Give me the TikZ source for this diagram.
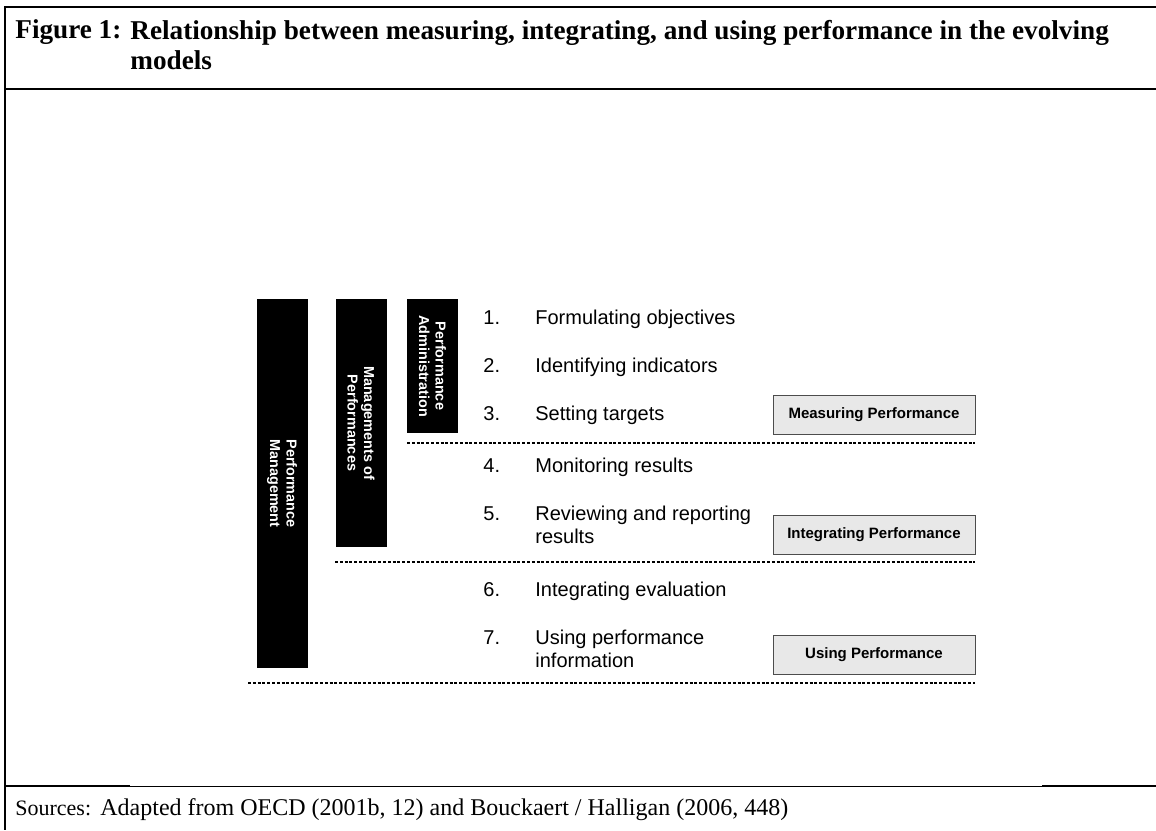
\documentclass[tikz,border=0pt]{standalone}
\usepackage{fontspec}
\setmainfont{Liberation Serif}
\setsansfont{Liberation Sans}
\usetikzlibrary{positioning}

\begin{document}
\begin{tikzpicture}[x=0.5pt, y=-0.5pt,
    bar/.style={fill=black, text=white, rotate=-90, inner sep=0pt, align=center,
        minimum height=25.5pt, font=\sffamily\bfseries\fontsize{7.2}{8.2}\selectfont},
    phase/.style={draw=black!70, fill=black!9, minimum width=101pt, minimum height=19.5pt,
        inner sep=0pt, font=\sffamily\bfseries\fontsize{7.5}{9}\selectfont},
    num/.style={anchor=base west, inner sep=0pt, font=\sffamily\fontsize{10}{11.5}\selectfont},
    item/.style={anchor=base west, inner sep=0pt, align=left, font=\sffamily\fontsize{10}{11.5}\selectfont},
    sep/.style={line width=1pt, dash pattern=on 1.5pt off 0.9pt},
    frame/.style={line width=1pt}]
    \useasboundingbox (0, 0) rectangle (1156, 830);
    % frame
    \draw[frame] (1156, 7) -- (5, 7) -- (5, 830);
    \draw[frame] (5, 89) -- (1156, 89);
    \draw[frame] (5, 786) -- (130, 786);
    \draw[line width=0.5pt] (130, 786) -- (1042, 786);
    \draw[frame] (1042, 786) -- (1156, 786);
    \node[anchor=base west, inner sep=0pt, font=\bfseries\fontsize{13.6}{15}\selectfont] (fig) at (15, 39) {Figure 1:};
    % anchor is the baseline of the last line
    \node[anchor=base west, inner sep=0pt, align=left, font=\bfseries\fontsize{13.6}{15}\selectfont] (title) at (130, 69)
        {Relationship between measuring, integrating, and using performance in the evolving\\models};
    \node[anchor=base west, inner sep=0pt, font=\fontsize{11}{14}\selectfont] (src) at (15, 815) {Sources:};
    \node[anchor=base west, inner sep=0pt, font=\fontsize{12}{14}\selectfont] (srctext) at (100, 815)
        {Adapted from OECD (2001b, 12) and Bouckaert / Halligan (2006, 448)};
    % bars
    \node[bar, minimum width=184.5pt] (mgmt) at (282, 483.5) {Performance\\Management};
    \node[bar, minimum width=124pt] (mofp) at (361, 423) {Managements of\\Performances};
    \node[bar, minimum width=67pt] (admin) at (432.5, 366) {Performance\\Administration};
    % steps
    \node[num] (n1) at (483, 324) {1.};
    \node[item] (s1) at (535, 324) {Formulating objectives};
    \node[num] (n2) at (483, 372) {2.};
    \node[item] (s2) at (535, 372) {Identifying indicators};
    \node[num] (n3) at (483, 420) {3.};
    \node[item] (s3) at (535, 420) {Setting targets};
    \node[num] (n4) at (483, 472) {4.};
    \node[item] (s4) at (535, 472) {Monitoring results};
    \node[num] (n5) at (483, 520) {5.};
    \node[item] (s5) at (535, 543) {Reviewing and reporting\\results};
    \node[num] (n6) at (483, 596) {6.};
    \node[item] (s6) at (535, 596) {Integrating evaluation};
    \node[num] (n7) at (483, 644) {7.};
    \node[item] (s7) at (535, 667) {Using performance\\information};
    % phases
    \node[phase] (measure) at (874, 414.5) {Measuring Performance};
    \node[phase] (integr) at (874, 535) {Integrating Performance};
    \node[phase] (using) at (874, 655) {Using Performance};
    \draw[sep] (407, 443) -- (975, 443);
    \draw[sep] (335, 562) -- (975, 562);
    \draw[sep] (248, 683) -- (975, 683);
\end{tikzpicture}
\end{document}
